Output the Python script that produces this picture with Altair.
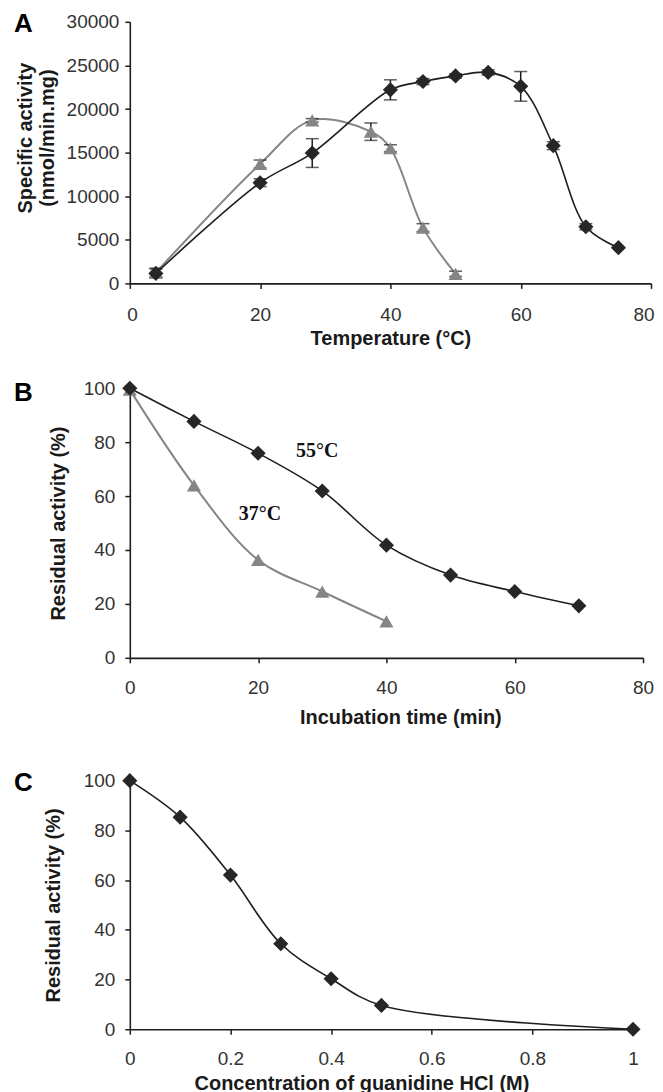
import altair as alt
import pandas as pd

FONT = "Liberation Sans"
SERIF = "Liberation Serif"
BLACK = "#1e1e1e"
GRAY = "#858585"

# ---------------- Panel A: specific activity vs temperature ----------------
temp_black = [4, 20, 28, 40, 45, 50, 55, 60, 65, 70, 75]
act_black = [1150, 11550, 14950, 22200, 23150, 23800, 24200, 22600, 15800, 6500, 4100]
err_black = [500, 450, 1650, 1150, 350, 250, 300, 1700, 450, 350, 0]

temp_gray = [4, 20, 28, 37, 40, 45, 50]
act_gray = [1250, 13700, 18700, 17400, 15500, 6400, 1100]
err_gray = [500, 450, 200, 1000, 400, 450, 300]

# ---------------- Panel B: residual activity vs incubation time ----------------
time_55 = [0, 10, 20, 30, 40, 50, 60, 70]
res_55 = [100, 87.7, 75.9, 61.9, 41.8, 30.7, 24.6, 19.3]
time_37 = [0, 10, 20, 30, 40]
res_37 = [99.5, 64, 36.3, 24.6, 13.5]
label_text = ["55°C", "37°C"]
label_x = [29.2, 20.3]
label_y = [76.8, 53.5]

# ---------------- Panel C: residual activity vs guanidine HCl ----------------
conc = [0, 0.1, 0.2, 0.3, 0.4, 0.5, 1.0]
res_c = [100, 85.3, 62, 34.4, 20.3, 9.6, 0]

panel_letters = ["A", "B", "C"]


def err_df(xs, vs, es):
    return pd.DataFrame({"x": xs, "v": vs,
                         "lo": [v - e for v, e in zip(vs, es)],
                         "hi": [v + e for v, e in zip(vs, es)]})


def letter(t, dy):
    return alt.Chart(pd.DataFrame({"t": [t]})).mark_text(
        align="left", baseline="middle", font=FONT, fontSize=26, fontWeight="bold", color="black"
    ).encode(x=alt.value(-116), y=alt.value(dy), text="t:N")


# ---- Panel A ----
dA_b = err_df(temp_black, act_black, err_black)
dA_g = err_df(temp_gray, act_gray, err_gray)

xA = alt.X("x:Q", scale=alt.Scale(domain=[0, 80], nice=False),
           axis=alt.Axis(values=[0, 20, 40, 60, 80], title="Temperature (°C)",
                         titleY=55, titleBaseline="middle", labelPadding=17,
                         labelFlush=True, labelFlushOffset=3))
yA = alt.Y("v:Q", scale=alt.Scale(domain=[0, 30000], nice=False),
           axis=alt.Axis(values=list(range(0, 30001, 5000)), format="d",
                         title=["Specific activity", "(nmol/min.mg)"],
                         titleX=-104, titleY=116, titleLineHeight=22,
                         titleBaseline="middle", titleAlign="center", labelPadding=6, labelFlush=False))

lineA_g = alt.Chart(dA_g).mark_line(color=GRAY, strokeWidth=2, interpolate="catmull-rom").encode(x=xA, y=yA)
lineA_b = alt.Chart(dA_b).mark_line(color=BLACK, strokeWidth=1.6, interpolate="catmull-rom").encode(x="x:Q", y="v:Q")
ptsA_g = alt.Chart(dA_g).mark_point(shape="triangle-up", filled=True, size=200, color=GRAY, opacity=1).encode(x="x:Q", y="v:Q")
ptsA_b = alt.Chart(dA_b).mark_point(shape="diamond", filled=True, size=230, color="#262626", opacity=1).encode(x="x:Q", y="v:Q")
errA = pd.concat([dA_b, dA_g])
errA = errA[errA["hi"] > errA["lo"]]
ruleA = alt.Chart(errA).mark_rule(color=BLACK, strokeWidth=1.5).encode(x="x:Q", y="lo:Q", y2="hi:Q")
capA_lo = alt.Chart(errA).mark_tick(color=BLACK, orient="horizontal", size=13, thickness=1.5).encode(x="x:Q", y="lo:Q")
capA_hi = alt.Chart(errA).mark_tick(color=BLACK, orient="horizontal", size=13, thickness=1.5).encode(x="x:Q", y="hi:Q")

panelA = alt.layer(lineA_g, lineA_b, ruleA, capA_lo, capA_hi, ptsA_g, ptsA_b,
                   letter(panel_letters[0], 2)).properties(width=522, height=262)

# ---- Panel B ----
dB_55 = pd.DataFrame({"x": time_55, "v": res_55})
dB_37 = pd.DataFrame({"x": time_37, "v": res_37})
dB_lab = pd.DataFrame({"x": label_x, "v": label_y, "t": label_text})

xB = alt.X("x:Q", scale=alt.Scale(domain=[0, 80], nice=False),
           axis=alt.Axis(values=[0, 20, 40, 60, 80], title="Incubation time (min)",
                         titleX=271, titleY=60, titleBaseline="middle", labelPadding=16, labelFlush=False))
yB = alt.Y("v:Q", scale=alt.Scale(domain=[0, 100], nice=False),
           axis=alt.Axis(values=[0, 20, 40, 60, 80, 100], title="Residual activity (%)",
                         titleX=-71, titleBaseline="middle", titleAlign="center", labelPadding=10,
                         labelFlush=False))

lineB_37 = alt.Chart(dB_37).mark_line(color=GRAY, strokeWidth=2, interpolate="catmull-rom").encode(x=xB, y=yB)
lineB_55 = alt.Chart(dB_55).mark_line(color=BLACK, strokeWidth=1.6, interpolate="catmull-rom").encode(x="x:Q", y="v:Q")
ptsB_37 = alt.Chart(dB_37).mark_point(shape="triangle-up", filled=True, size=200, color=GRAY, opacity=1).encode(x="x:Q", y="v:Q")
ptsB_55 = alt.Chart(dB_55).mark_point(shape="diamond", filled=True, size=230, color="#262626", opacity=1).encode(x="x:Q", y="v:Q")
labB = alt.Chart(dB_lab).mark_text(font=SERIF, fontSize=20, fontWeight="bold", color="#111").encode(
    x="x:Q", y="v:Q", text="t:N")

panelB = alt.layer(lineB_37, lineB_55, ptsB_37, ptsB_55, labB,
                   letter(panel_letters[1], 5)).properties(width=514, height=270)

# ---- Panel C ----
dC = pd.DataFrame({"x": conc, "v": res_c})
xC = alt.X("x:Q", scale=alt.Scale(domain=[0, 1], nice=False),
           axis=alt.Axis(values=[0, 0.2, 0.4, 0.6, 0.8, 1], format="~g",
                         title="Concentration of guanidine HCl (M)",
                         titleX=232, titleY=54, titleBaseline="middle", labelPadding=15, labelFlush=False))
yC = alt.Y("v:Q", scale=alt.Scale(domain=[0, 100], nice=False),
           axis=alt.Axis(values=[0, 20, 40, 60, 80, 100], title="Residual activity (%)",
                         titleX=-76, titleBaseline="middle", titleAlign="center", labelPadding=10,
                         labelFlush=False))

lineC = alt.Chart(dC).mark_line(color=BLACK, strokeWidth=1.6, interpolate="catmull-rom").encode(x=xC, y=yC)
ptsC = alt.Chart(dC).mark_point(shape="diamond", filled=True, size=230, color="#262626", opacity=1).encode(x="x:Q", y="v:Q")

panelC = alt.layer(lineC, ptsC, letter(panel_letters[2], 2)).properties(width=504, height=249)

chart = alt.vconcat(
    alt.vconcat(panelA, panelB, spacing=29),
    panelC, spacing=40
).properties(
    padding={"left": 5, "top": 1, "right": 0, "bottom": 0}
).configure_axis(
    grid=False, domainColor=BLACK, domainWidth=1.6, tickColor=BLACK, tickWidth=1.5, tickSize=5,
    labelFont=FONT, labelFontSize=19, labelColor="#333333",
    titleFont=FONT, titleFontSize=20, titleFontWeight="bold", titleColor="#1a1a1a"
).configure_view(stroke="transparent")

chart.save("out.html", embed_options={"renderer": "svg", "actions": False})
